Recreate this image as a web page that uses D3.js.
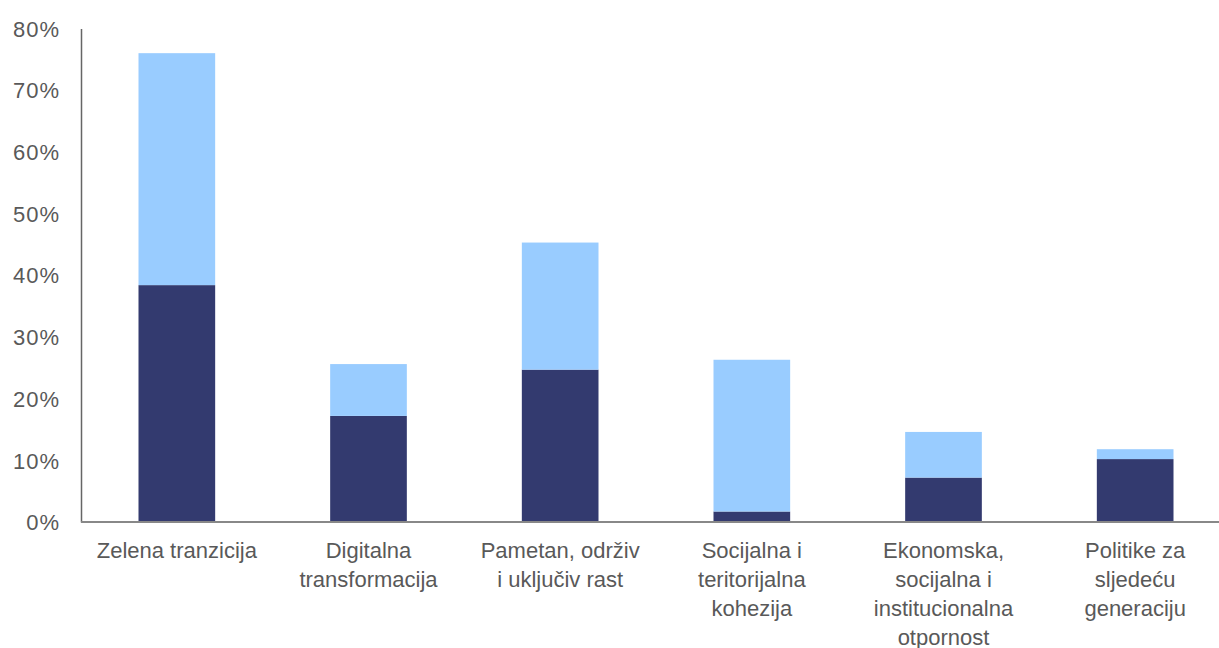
<!DOCTYPE html>
<head>
  <meta charset="utf-8">
  <script src="https://d3js.org/d3.v7.min.js"></script>
<style>
    body {
        margin: 0;
        background: #fff;
    }
    .tick text, .cat {
        font-family: "Liberation Sans", Arial, sans-serif;
        font-size: 22px;
        fill: #595959;
    }
    .tick text {
        letter-spacing: 1px;
    }
</style>
</head>

<body>
  <script>

var categories = [
    ["Zelena tranzicija"],
    ["Digitalna", "transformacija"],
    ["Pametan, održiv", "i uključiv rast"],
    ["Socijalna i", "teritorijalna", "kohezija"],
    ["Ekonomska,", "socijalna i", "institucionalna", "otpornost"],
    ["Politike za", "sljedeću", "generaciju"]
];
var darkValues = [38.4, 17.2, 24.7, 1.7, 7.2, 10.2];
var lightValues = [37.6, 8.4, 20.6, 24.6, 7.4, 1.6];
var yTicks = [0, 10, 20, 30, 40, 50, 60, 70, 80];

var width = 1219;
var height = 648;
var margin = {top: 28.5, right: -12, bottom: 126, left: 81};

var svg = d3.select("body")
    .append("svg")
    .attr("width", width)
    .attr("height", height);

var x = d3.scaleBand()
    .domain(d3.range(categories.length))
    .range([margin.left, width - margin.right])
    .paddingInner(0.6)
    .paddingOuter(0.3);

var y = d3.scaleLinear()
    .domain([0, 80])
    .range([height - margin.bottom, margin.top]);

var rows = categories.map(function (c, i) {
    return {i: i, dark: darkValues[i], light: lightValues[i]};
});

var stack = d3.stack().keys(["dark", "light"]);
var series = stack(rows);
var colors = {dark: "#333a6f", light: "#99ccff"};

svg.selectAll("g.series")
    .data(series)
    .enter()
    .append("g")
    .attr("fill", function (d) { return colors[d.key]; })
    .selectAll("rect")
    .data(function (d) { return d; })
    .enter()
    .append("rect")
    .attr("x", function (d) { return x(d.data.i); })
    .attr("width", x.bandwidth())
    .attr("y", function (d) { return y(d[1]); })
    .attr("height", function (d) { return y(d[0]) - y(d[1]); });

// y axis
var yAxis = svg.append("g")
    .attr("transform", "translate(" + margin.left + ",0)")
    .call(d3.axisLeft(y).tickValues(yTicks).tickSize(0).tickPadding(21)
        .tickFormat(function (d) { return d + "%"; }));
yAxis.select(".domain").attr("stroke", "#666").attr("stroke-width", 1.5);
yAxis.selectAll(".tick text").attr("dy", "0.35em");

// x axis line
svg.append("line")
    .attr("x1", margin.left)
    .attr("x2", width)
    .attr("y1", y(0))
    .attr("y2", y(0))
    .attr("stroke", "#888")
    .attr("stroke-width", 2);

// category labels
svg.selectAll("text.cat")
    .data(categories)
    .enter()
    .append("text")
    .attr("class", "cat")
    .attr("text-anchor", "middle")
    .attr("x", function (d, i) { return x(i) + x.bandwidth() / 2; })
    .attr("y", y(0) + 36)
    .selectAll("tspan")
    .data(function (d) { return d; })
    .enter()
    .append("tspan")
    .attr("x", function () { return d3.select(this.parentNode).attr("x"); })
    .attr("dy", function (d, j) { return j === 0 ? 0 : 29; })
    .text(function (d) { return d; });

  </script>
</body>
